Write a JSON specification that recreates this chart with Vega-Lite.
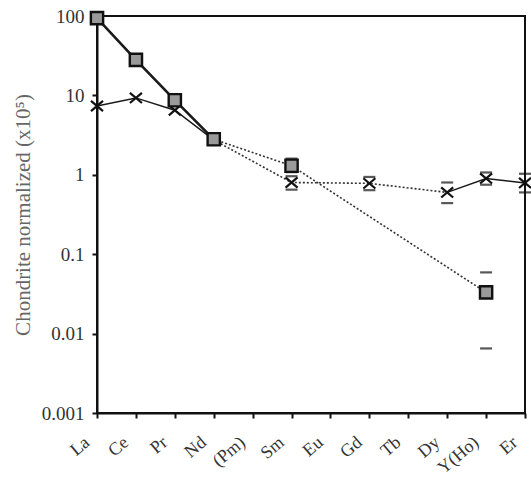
{
  "$schema": "https://vega.github.io/schema/vega-lite/v6.json",
  "width": 428,
  "height": 397,
  "autosize": "none",
  "padding": {"left": 97, "top": 16, "right": 6, "bottom": 71},
  "background": "white",
  "config": {
    "view": {"stroke": "#111", "strokeWidth": 2},
    "font": "Liberation Serif",
    "axis": {
      "grid": false, "domainColor": "#111", "domainWidth": 2,
      "tickColor": "#111", "tickWidth": 2, "tickSize": 5,
      "labelFont": "Liberation Serif", "labelFontSize": 19, "labelColor": "#333",
      "titleFont": "Liberation Serif", "titleFontWeight": "normal", "titleFontSize": 21, "titleColor": "#666"
    }
  },
  "data": {
    "values": [
      {"element": "La", "Z": 57, "series": "Zirconolite", "value": 7.35},
      {"element": "Ce", "Z": 58, "series": "Zirconolite", "value": 9.3},
      {"element": "Pr", "Z": 59, "series": "Zirconolite", "value": 6.5},
      {"element": "Nd", "Z": 60, "series": "Zirconolite", "value": 2.75},
      {"element": "Sm", "Z": 62, "series": "Zirconolite", "value": 0.8, "lo": 0.65, "hi": 0.96},
      {"element": "Gd", "Z": 64, "series": "Zirconolite", "value": 0.78, "lo": 0.64, "hi": 0.94},
      {"element": "Dy", "Z": 66, "series": "Zirconolite", "value": 0.6, "lo": 0.44, "hi": 0.8},
      {"element": "Y(Ho)", "Z": 67, "series": "Zirconolite", "value": 0.9, "lo": 0.75, "hi": 1.07},
      {"element": "Er", "Z": 68, "series": "Zirconolite", "value": 0.79, "lo": 0.6, "hi": 1.03},
      {"element": "La", "Z": 57, "series": "Monazite(-La)", "value": 94},
      {"element": "Ce", "Z": 58, "series": "Monazite(-La)", "value": 28},
      {"element": "Pr", "Z": 59, "series": "Monazite(-La)", "value": 8.7},
      {"element": "Nd", "Z": 60, "series": "Monazite(-La)", "value": 2.8},
      {"element": "Sm", "Z": 62, "series": "Monazite(-La)", "value": 1.3, "lo": 1.08, "hi": 1.6},
      {"element": "Y(Ho)", "Z": 67, "series": "Monazite(-La)", "value": 0.033, "lo": 0.0065, "hi": 0.059}
    ]
  },
  "encoding": {
    "x": {
      "field": "element", "type": "ordinal",
      "scale": {"type": "point", "padding": 0, "domain": ["La", "Ce", "Pr", "Nd", "(Pm)", "Sm", "Eu", "Gd", "Tb", "Dy", "Y(Ho)", "Er"]},
      "axis": {"title": null, "labelAngle": -40, "labelAlign": "right", "labelBaseline": "middle", "labelPadding": 22, "labelOffset": -10, "labelFontSize": 18}
    },
    "y": {"field": "value", "type": "quantitative", "title": "Chondrite normalized (x10⁵)",
      "scale": {"type": "log", "domain": [0.001, 100]},
      "axis": {"values": [0.001, 0.01, 0.1, 1, 10, 100], "format": "~g", "labelPadding": 8, "titlePadding": 8}}
  },
  "layer": [
    {
      "transform": [{"filter": {"field": "element", "oneOf": ["La", "Ce", "Pr", "Nd"]}}],
      "mark": {"type": "line", "color": "#1a1a1a"},
      "encoding": {
        "detail": {"field": "series"},
        "order": {"field": "Z"},
        "strokeWidth": {"field": "series", "type": "nominal", "scale": {"domain": ["Zirconolite", "Monazite(-La)"], "range": [1.5, 2.6]}, "legend": null}
      }
    },
    {
      "transform": [{"filter": "datum.series == 'Zirconolite' && indexof(['Dy','Y(Ho)','Er'], datum.element) >= 0"}],
      "mark": {"type": "line", "color": "#1a1a1a", "strokeWidth": 1.5},
      "encoding": {"order": {"field": "Z"}}
    },
    {
      "transform": [{"filter": "(datum.series == 'Zirconolite' && indexof(['Nd','Sm','Gd','Dy'], datum.element) >= 0) || (datum.series == 'Monazite(-La)' && indexof(['Nd','Sm','Y(Ho)'], datum.element) >= 0)"}],
      "mark": {"type": "line", "color": "#333", "strokeWidth": 1.6, "strokeDash": [2, 2]},
      "encoding": {"detail": {"field": "series"}, "order": {"field": "Z"}}
    },
    {
      "transform": [{"filter": "isValid(datum.lo)"}],
      "mark": {"type": "tick", "color": "#111", "thickness": 2.2, "size": 12},
      "encoding": {"y": {"field": "lo", "type": "quantitative", "title": "Chondrite normalized (x10⁵)"}}
    },
    {
      "transform": [{"filter": "isValid(datum.hi)"}],
      "mark": {"type": "tick", "color": "#111", "thickness": 2.2, "size": 12},
      "encoding": {"y": {"field": "hi", "type": "quantitative", "title": "Chondrite normalized (x10⁵)"}}
    },
    {
      "transform": [{"filter": "datum.series == 'Zirconolite'"}],
      "mark": {"type": "point", "shape": "M-1,-0.85L1,0.85M1,-0.85L-1,0.85", "size": 144, "filled": false, "stroke": "#111", "strokeWidth": 2.2, "opacity": 1}
    },
    {
      "transform": [{"filter": "datum.series == 'Monazite(-La)'"}],
      "mark": {"type": "point", "shape": "square", "size": 150, "filled": true, "fill": "#9a9a9a", "stroke": "#111", "strokeWidth": 2.4, "opacity": 1}
    },
    {
      "mark": {"type": "point", "filled": true, "stroke": "#111", "strokeWidth": 2, "size": 0},
      "encoding": {
        "shape": {"field": "series", "type": "nominal",
          "scale": {"domain": ["Zirconolite", "Monazite(-La)"], "range": ["cross", "square"]},
          "legend": {"title": null, "orient": "none", "legendX": 235, "legendY": 42, "labelFontSize": 19, "labelFont": "Liberation Serif", "labelColor": "#333", "strokeColor": "#222", "fillColor": "white", "padding": 8, "rowPadding": 8, "symbolSize": 120, "labelOffset": 12, "symbolStrokeColor": "#111", "symbolFillColor": "#9a9a9a", "symbolStrokeWidth": 2}}
      }
    }
  ]
}
